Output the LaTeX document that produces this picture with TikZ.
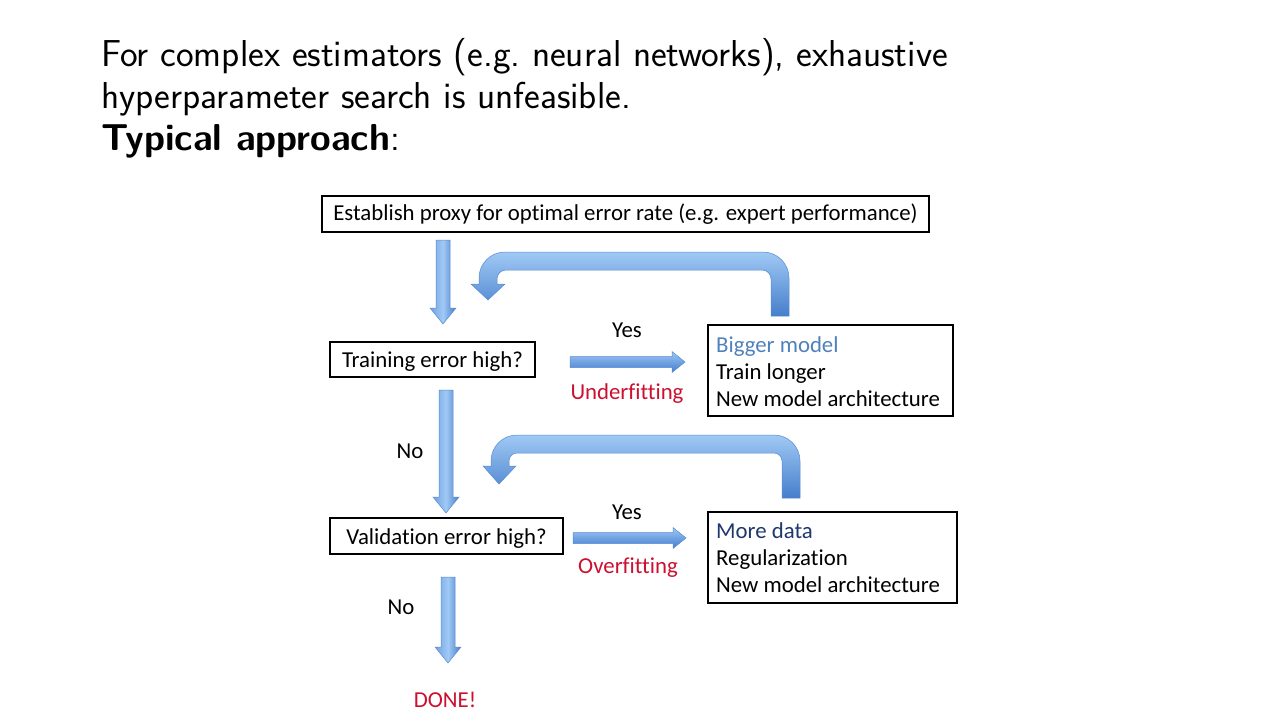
\documentclass[tikz,border=0pt]{standalone}
\usepackage{fontspec}
\newfontfamily\diag[Ligatures=NoCommon]{Carlito}
\usetikzlibrary{arrows.meta}
\definecolor{arrowlight}{RGB}{160,201,244}
\definecolor{arrowmid}{RGB}{112,162,226}
\definecolor{arrowdark}{RGB}{70,126,204}
\definecolor{arrowedge}{RGB}{88,140,210}
\definecolor{biggerblue}{RGB}{79,129,189}
\definecolor{navyblue}{RGB}{31,56,110}
\definecolor{redlab}{RGB}{204,16,46}
\tikzset{
  heading/.style={anchor=base west, inner sep=0pt, font=\sffamily\fontsize{37.5}{42}\selectfont},
  box/.style={draw=black, line width=1.7pt, fill=white, inner sep=0pt, font=\diag\fontsize{22.8}{27}\selectfont},
  lowtext/.style={text height=21pt, text depth=5pt},
  boxtext/.style={anchor=base west, inner sep=0pt, align=left, font=\diag\fontsize{22.8}{27}\selectfont},
  lab/.style={inner sep=0pt, font=\diag\fontsize{22.8}{27}\selectfont},
  fatshape/.style={draw=arrowedge, line width=0.5pt},
}
% vertical fat arrow: x, y of top, y of tip
\newcommand{\vfatarrow}[3]{%
  \path[fatshape, left color=arrowmid, right color=arrowdark, middle color=arrowlight]
   (#1-7,#2) -- (#1+7,#2) -- (#1+7,#3-16) -- (#1+13,#3-16) -- (#1,#3) -- (#1-13,#3-16) -- (#1-7,#3-16) -- cycle;}
% horizontal fat arrow: y, x of start, x of tip
\newcommand{\hfatarrow}[3]{%
  \path[fatshape, top color=arrowlight, bottom color=arrowdark, middle color=arrowmid]
   (#2,#1-5.5) -- (#3-13,#1-5.5) -- (#3-13,#1-10.5) -- (#3,#1) -- (#3-13,#1+10.5) -- (#3-13,#1+5.5) -- (#2,#1+5.5) -- cycle;}
\begin{document}
\begin{tikzpicture}[x=1pt,y=-1pt]
\useasboundingbox[fill=white] (0,0) rectangle (1280,720);
% heading
\node[heading] (h1) at (101,66) {For complex estimators (e.g.\ neural networks), exhaustive};
\node[heading] (h2) at (101,108) {hyperparameter search is unfeasible.};
\node[heading] (h3) at (101,150) {\textbf{Typical approach}:};
% boxes
\node[box, minimum width=607pt, minimum height=36pt] (proxy) at (625.5,214) {Establish proxy for optimal error rate (e.g. expert performance)};
\node[box, lowtext, minimum width=205pt, minimum height=35pt] (train) at (432.5,359.5) {Training error high?};
\node[box, lowtext, minimum width=233pt, minimum height=36pt] (valid) at (446.5,536) {Validation error high?};
\node[box, anchor=north west, minimum width=245pt, minimum height=91pt] (under) at (707,324) {};
\node[boxtext] (undertext) at (716,406)
  {\textcolor{biggerblue}{Bigger model}\\Train longer\\New model architecture};
\node[box, anchor=north west, minimum width=249pt, minimum height=91pt] (over) at (707,511) {};
\node[boxtext] (overtext) at (716,592)
  {\textcolor{navyblue}{More data}\\Regularization\\New model architecture};
% labels
\node[lab] (yes1) at (627,330) {Yes};
\node[lab, text=redlab] (uf) at (627,394) {Underfitting};
\node[lab] (no1) at (410,451) {No};
\node[lab] (yes2) at (627,512) {Yes};
\node[lab, text=redlab] (of) at (628,568) {Overfitting};
\node[lab] (no2) at (401,607) {No};
\node[lab, text=redlab] (done) at (445,700) {DONE!};
% straight arrows
\vfatarrow{443}{240}{324}
\hfatarrow{362}{570}{685}
\vfatarrow{446}{390}{513}
\hfatarrow{538}{573}{686}
\vfatarrow{448}{577}{663}
% loop arrow 1 (back to training error)
\path[fatshape, top color=arrowlight, bottom color=arrowdark]
  (789,316) -- (789,278) .. controls (789,263.6) and (777.4,252) .. (763,252)
  -- (505,252) .. controls (490.6,252) and (479,263.6) .. (479,278)
  -- (479,284) -- (471,284) -- (488,300) -- (505,284) -- (497,284) -- (497,279)
  .. controls (497,274) and (501,270) .. (506,270)
  -- (762,270) .. controls (767,270) and (771,274) .. (771,279) -- (771,316) -- cycle;
% loop arrow 2 (back to validation error)
\path[fatshape, top color=arrowlight, bottom color=arrowdark]
  (800,498) -- (800,461) .. controls (800,446.6) and (788.4,435) .. (774,435)
  -- (517,435) .. controls (502.6,435) and (491,446.6) .. (491,461)
  -- (491,466) -- (483,466) -- (499,484) -- (516,466) -- (509,466) -- (509,461)
  .. controls (509,456.6) and (512.6,453) .. (517,453)
  -- (774,453) .. controls (778.4,453) and (782,456.6) .. (782,461) -- (782,498) -- cycle;
\end{tikzpicture}
\end{document}
